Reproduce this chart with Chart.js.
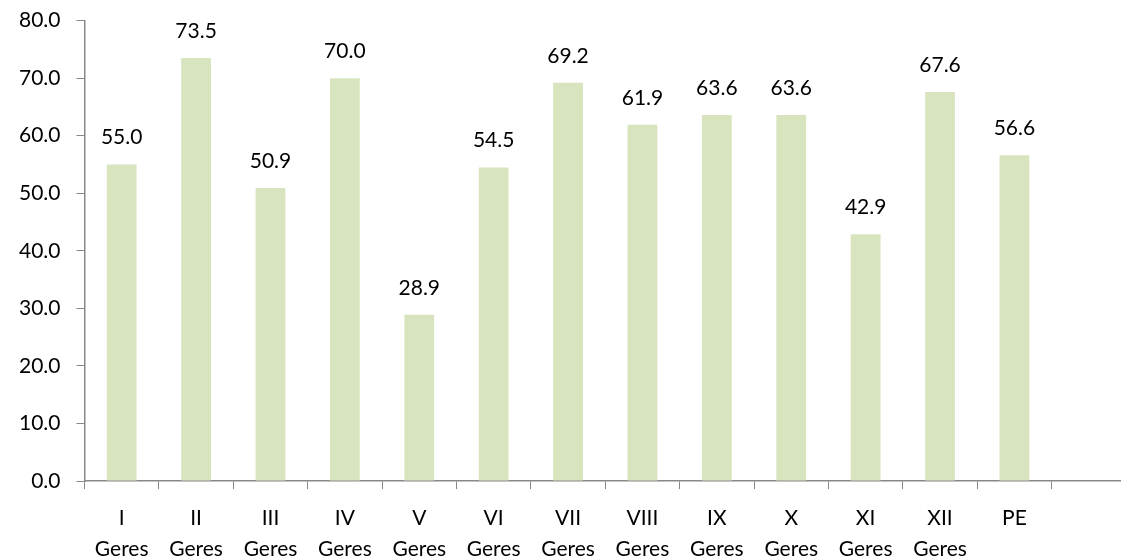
<!DOCTYPE html>
<html>
<head>
<meta charset="utf-8">
<script src="https://cdn.jsdelivr.net/npm/chart.js@4/dist/chart.umd.min.js"></script>
<style>
  html, body { margin: 0; padding: 0; background: #fff; overflow: hidden; }
  #wrap { position: absolute; left: 0; top: -8px; width: 1128px; height: 586px; }
</style>
</head>
<body>
<div id="wrap"><canvas id="chart"></canvas></div>
<script>
const categories = [
    ['I', 'Geres'], ['II', 'Geres'], ['III', 'Geres'], ['IV', 'Geres'],
    ['V', 'Geres'], ['VI', 'Geres'], ['VII', 'Geres'], ['VIII', 'Geres'],
    ['IX', 'Geres'], ['X', 'Geres'], ['XI', 'Geres'], ['XII', 'Geres'],
    'PE', ''
];
const values = [55.0, 73.5, 50.9, 70.0, 28.9, 54.5, 69.2, 61.9, 63.6, 63.6, 42.9, 67.6, 56.6, null];

const FONT = 'Lato, "Open Sans", sans-serif';

// draws the value above each bar
const valueLabels = {
    id: 'valueLabels',
    afterDatasetsDraw(chart) {
        const ctx = chart.ctx;
        const meta = chart.getDatasetMeta(0);
        ctx.save();
        ctx.font = '21px ' + FONT;
        ctx.fillStyle = '#000';
        ctx.textAlign = 'center';
        ctx.textBaseline = 'middle';
        meta.data.forEach((bar, i) => {
            if (values[i] == null) return;
            ctx.fillText(values[i].toFixed(1), bar.x, bar.y - 27);
        });
        ctx.restore();
    }
};

new Chart(document.getElementById('chart').getContext('2d'), {
    type: 'bar',
    data: {
        labels: categories,
        datasets: [{
            data: values,
            backgroundColor: '#D7E4BD',
            barPercentage: 0.8,
            categoryPercentage: 0.5
        }]
    },
    options: {
        responsive: true,
        maintainAspectRatio: false,
        animation: false,
        layout: { padding: { top: 0, right: 2, left: 3, bottom: 0 } },
        plugins: {
            legend: { display: false },
            tooltip: { enabled: false }
        },
        scales: {
            x: {
                grid: {
                    drawOnChartArea: false,
                    color: '#888',
                    tickLength: 8,
                    offset: true
                },
                border: { color: '#888', width: 1.5 },
                ticks: {
                    color: '#000',
                    font: { family: FONT, size: 21, lineHeight: 1.45 },
                    padding: 14,
                    maxRotation: 0,
                    autoSkip: false
                }
            },
            y: {
                min: 0,
                max: 80,
                grid: {
                    drawOnChartArea: false,
                    color: '#888',
                    tickLength: 8
                },
                border: { color: '#888', width: 1.5 },
                ticks: {
                    stepSize: 10,
                    color: '#000',
                    font: { family: FONT, size: 21 },
                    padding: 16,
                    callback: v => v.toFixed(1)
                }
            }
        }
    },
    plugins: [valueLabels]
});
</script>
</body>
</html>
